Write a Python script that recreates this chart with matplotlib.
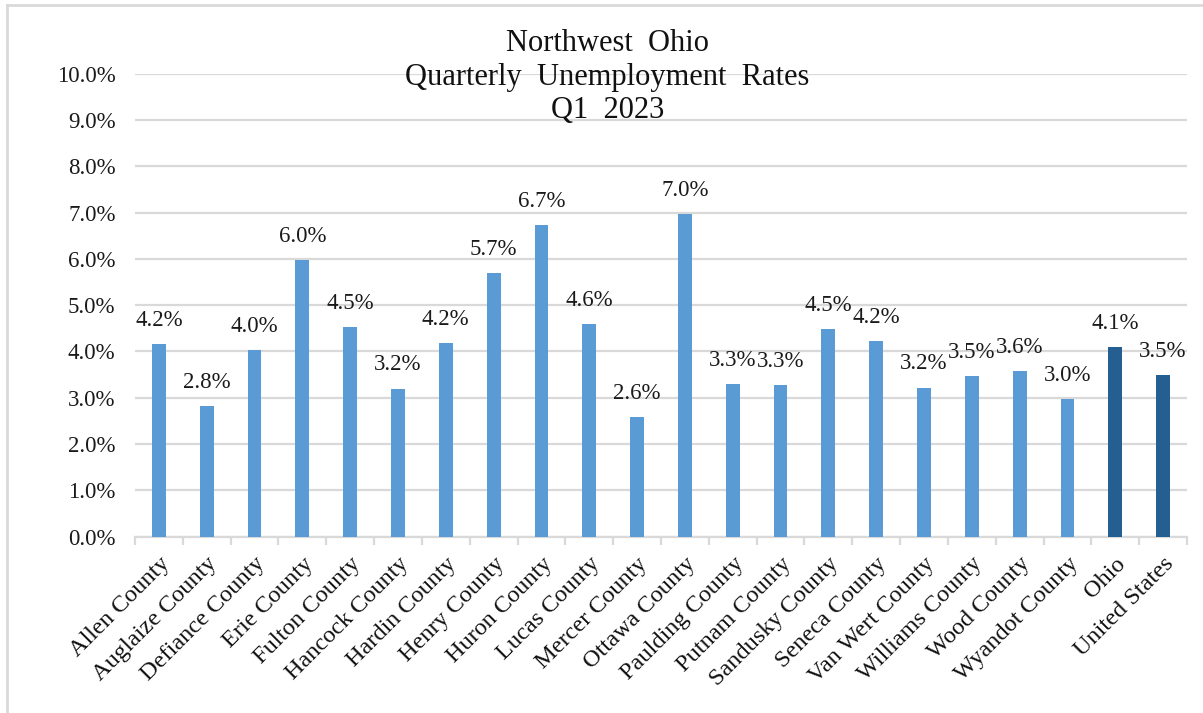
import matplotlib.pyplot as plt
from matplotlib.ticker import PercentFormatter
from matplotlib.lines import Line2D
import numpy as np

plt.rcParams['font.family'] = ['Liberation Serif', 'DejaVu Serif']

areas = ['Allen County', 'Auglaize County', 'Defiance County', 'Erie County',
         'Fulton County', 'Hancock County', 'Hardin County', 'Henry County',
         'Huron County', 'Lucas County', 'Mercer County', 'Ottawa County',
         'Paulding County', 'Putnam County', 'Sandusky County', 'Seneca County',
         'Van Wert County', 'Williams County', 'Wood County', 'Wyandot County',
         'Ohio', 'United States']
rates = [4.17, 2.83, 4.03, 5.98, 4.53, 3.20, 4.18, 5.69, 6.73, 4.60, 2.58,
         6.97, 3.29, 3.27, 4.49, 4.23, 3.22, 3.47, 3.57, 2.97, 4.10, 3.50]
is_total = [False] * 20 + [True, True]

light = '#5B9BD5'
dark = '#255E91'
grid_col = '#D9D9D9'

fig = plt.figure(figsize=(12.03, 7.13), dpi=100)
ax = fig.add_axes([0.1122, 0.2473, 0.8745, 0.6493])

x = np.arange(len(areas))
colors = [dark if t else light for t in is_total]
bars = ax.bar(x, rates, width=0.29, color=colors, zorder=3)

for xi, v in zip(x, rates):
    ax.annotate(f'{v:.1f}%', (xi, v), xytext=(0, 17), textcoords='offset points',
                ha='center', va='center', fontsize=16.5, color='#1a1a1a')

ax.set_ylim(0, 10)
ax.set_xlim(-0.5, len(areas) - 0.5)
ax.set_yticks(np.arange(0, 10.5, 1))
ax.yaxis.set_major_formatter(PercentFormatter(decimals=1))
ax.yaxis.grid(True, color=grid_col, linewidth=1.6, zorder=0)
ax.tick_params(axis='y', length=0, labelsize=16.5, pad=14, labelcolor='#1a1a1a')

ax.set_xticks(x)
ax.set_xticklabels(areas, rotation=45, ha='right', rotation_mode='anchor',
                   fontsize=17.5, color='#111111')
ax.set_xticks(np.arange(-0.5, len(areas)), minor=True)
ax.tick_params(axis='x', which='major', length=0, pad=12)
ax.tick_params(axis='x', which='minor', length=6, color=grid_col, width=1.6)

for s in ['top', 'right', 'left']:
    ax.spines[s].set_visible(False)
ax.spines['bottom'].set_color(grid_col)
ax.spines['bottom'].set_linewidth(1.6)

fig.text(0.505, 1 - 77 / 713, 'Northwest  Ohio\nQuarterly  Unemployment  Rates\nQ1  2023',
         ha='center', va='center', fontsize=22, linespacing=1.2, color='#111111')

# outer chart border (only top and left edges are visible)
fig.add_artist(Line2D([7 / 1203, 7 / 1203], [0, 1 - 5 / 713], color=grid_col,
                      linewidth=2, transform=fig.transFigure))
fig.add_artist(Line2D([7 / 1203, 1], [1 - 5 / 713, 1 - 5 / 713], color=grid_col,
                      linewidth=2, transform=fig.transFigure))

fig.savefig('out.png', dpi=100)
